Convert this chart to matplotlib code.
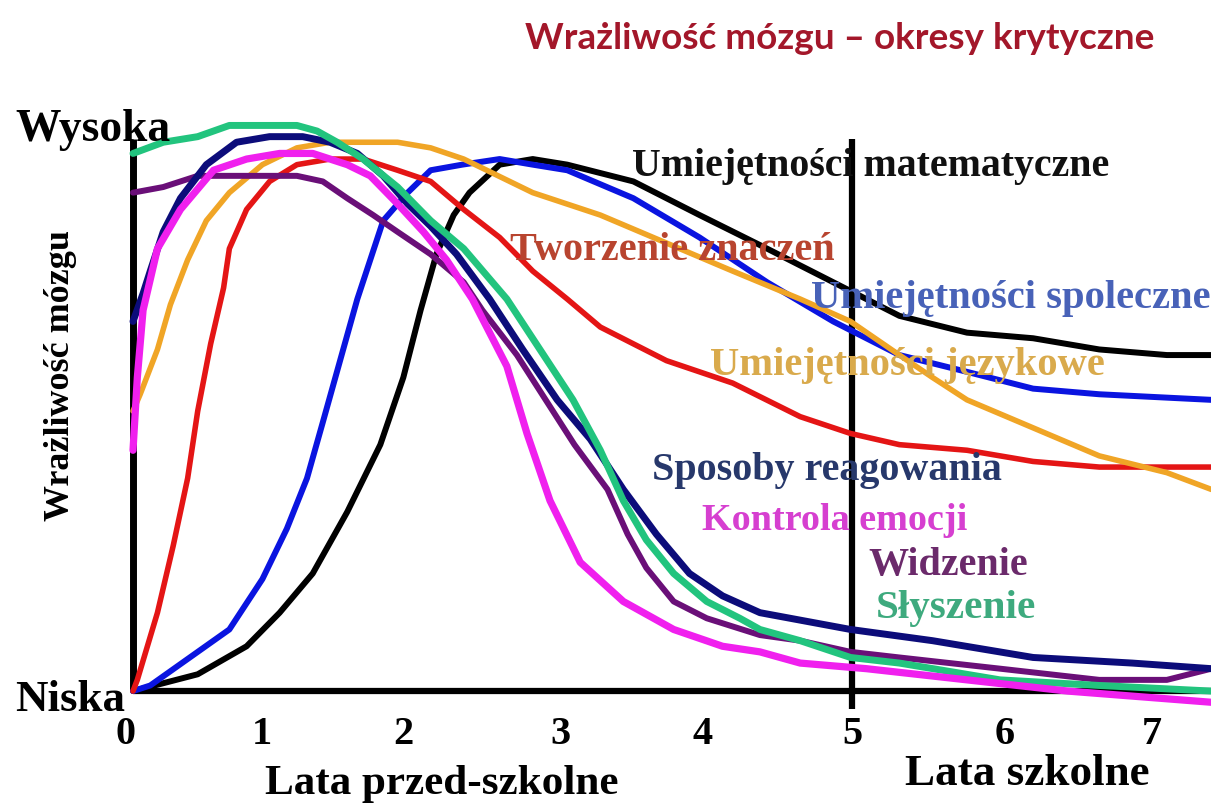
import matplotlib
matplotlib.use("Agg")
import matplotlib.pyplot as plt

# ---------------- data ----------------
title = "Wrażliwość mózgu – okresy krytyczne"
y_label = "Wrażliwość mózgu"
y_high = "Wysoka"
y_low = "Niska"
tick_values = [0, 1, 2, 3, 4, 5, 6, 7]
tick_labels = ["0", "1", "2", "3", "4", "5", "6", "7"]
x_label_pre = "Lata przed-szkolne"
x_label_school = "Lata szkolne"
school_start = 5

math_x = [0, 0.45, 0.79, 1.02, 1.25, 1.49, 1.72, 1.88, 2.00, 2.11, 2.23, 2.34, 2.55, 2.78, 3.02, 3.48, 3.94, 4.41, 4.87, 5.33, 5.80, 6.26, 6.72, 7.19, 7.50]
math_y = [0, 0.03, 0.08, 0.14, 0.21, 0.32, 0.44, 0.56, 0.68, 0.78, 0.85, 0.89, 0.94, 0.95, 0.94, 0.91, 0.85, 0.79, 0.73, 0.67, 0.64, 0.63, 0.61, 0.60, 0.60]

social_x = [0, 0.12, 0.45, 0.67, 0.90, 1.07, 1.21, 1.32, 1.44, 1.56, 1.74, 1.91, 2.07, 2.29, 2.55, 2.78, 3.02, 3.48, 3.94, 4.41, 4.87, 5.33, 5.80, 6.26, 6.72, 7.50]
social_y = [0, 0.01, 0.07, 0.11, 0.20, 0.29, 0.38, 0.48, 0.59, 0.70, 0.84, 0.89, 0.93, 0.94, 0.95, 0.94, 0.93, 0.88, 0.81, 0.73, 0.66, 0.60, 0.57, 0.54, 0.53, 0.52]

meaning_x = [0, 0.03, 0.17, 0.28, 0.38, 0.45, 0.54, 0.63, 0.67, 0.79, 0.95, 1.14, 1.37, 1.60, 1.84, 2.07, 2.30, 2.55, 2.78, 3.02, 3.25, 3.48, 3.71, 4.17, 4.64, 4.99, 5.33, 5.80, 6.26, 6.72, 7.50]
meaning_y = [0, 0.02, 0.14, 0.26, 0.38, 0.50, 0.62, 0.72, 0.79, 0.86, 0.91, 0.94, 0.95, 0.95, 0.93, 0.91, 0.86, 0.81, 0.75, 0.70, 0.65, 0.62, 0.59, 0.55, 0.49, 0.46, 0.44, 0.43, 0.41, 0.40, 0.40]

language_x = [0, 0.05, 0.17, 0.26, 0.38, 0.51, 0.67, 0.90, 1.14, 1.37, 1.60, 1.84, 2.07, 2.30, 2.78, 3.25, 3.71, 4.17, 4.64, 4.99, 5.33, 5.56, 5.80, 6.26, 6.72, 7.19, 7.50]
language_y = [0.50, 0.53, 0.61, 0.69, 0.77, 0.84, 0.89, 0.94, 0.97, 0.98, 0.98, 0.98, 0.97, 0.95, 0.89, 0.85, 0.80, 0.75, 0.70, 0.66, 0.60, 0.56, 0.52, 0.47, 0.42, 0.39, 0.36]

hearing_x = [0, 0.21, 0.45, 0.67, 0.90, 1.14, 1.28, 1.42, 1.60, 1.84, 2.07, 2.30, 2.60, 2.83, 3.06, 3.25, 3.41, 3.57, 3.76, 3.99, 4.22, 4.36, 4.64, 4.99, 5.33, 6.03, 6.72, 7.50]
hearing_y = [0.96, 0.98, 0.99, 1.01, 1.01, 1.01, 1.00, 0.98, 0.95, 0.90, 0.84, 0.79, 0.70, 0.61, 0.52, 0.43, 0.34, 0.27, 0.21, 0.16, 0.13, 0.11, 0.09, 0.06, 0.05, 0.02, 0.01, 0.00]

reaction_x = [0, 0.07, 0.12, 0.21, 0.33, 0.51, 0.72, 0.95, 1.18, 1.37, 1.56, 1.74, 1.91, 2.07, 2.25, 2.48, 2.71, 2.95, 3.18, 3.41, 3.64, 3.87, 4.10, 4.36, 4.99, 5.56, 6.26, 6.95, 7.50]
reaction_y = [0.66, 0.71, 0.75, 0.82, 0.88, 0.94, 0.98, 0.99, 0.99, 0.98, 0.96, 0.92, 0.87, 0.83, 0.78, 0.70, 0.61, 0.52, 0.45, 0.36, 0.28, 0.21, 0.17, 0.14, 0.11, 0.09, 0.06, 0.05, 0.04]

emotion_x = [0, 0.03, 0.07, 0.17, 0.33, 0.56, 0.79, 1.02, 1.25, 1.49, 1.65, 1.84, 2.02, 2.18, 2.36, 2.60, 2.74, 2.90, 3.11, 3.41, 3.76, 4.10, 4.36, 4.64, 5.10, 5.80, 6.50, 7.50]
emotion_y = [0.43, 0.56, 0.68, 0.79, 0.86, 0.93, 0.95, 0.96, 0.96, 0.94, 0.92, 0.87, 0.82, 0.77, 0.70, 0.58, 0.46, 0.34, 0.23, 0.16, 0.11, 0.08, 0.07, 0.05, 0.04, 0.02, 0.00, -0.02]

vision_x = [0, 0.21, 0.45, 0.67, 0.90, 1.14, 1.32, 1.49, 1.67, 1.84, 2.07, 2.30, 2.43, 2.67, 2.87, 3.07, 3.30, 3.44, 3.57, 3.76, 3.99, 4.36, 4.64, 4.99, 5.33, 6.03, 6.72, 7.19, 7.50]
vision_y = [0.89, 0.90, 0.92, 0.92, 0.92, 0.92, 0.91, 0.88, 0.85, 0.82, 0.78, 0.73, 0.68, 0.60, 0.52, 0.44, 0.36, 0.28, 0.22, 0.16, 0.13, 0.10, 0.09, 0.07, 0.06, 0.04, 0.02, 0.02, 0.04]

series_names = ["Umiejętności matematyczne", "Tworzenie znaczeń", "Umiejętności spoleczne",
                "Umiejętności językowe", "Sposoby reagowania", "Kontrola emocji",
                "Widzenie", "Słyszenie"]

# ---------------- layout / style ----------------
W, H = 1211, 807
fig = plt.figure(figsize=(W / 100, H / 100), dpi=100)
ax = fig.add_axes([0, 0, 1, 1])
ax.set_xlim(-0.925, 7.497)
ax.set_ylim(-0.207, 1.234)
ax.axis("off")
fig.patch.set_facecolor("white")

# axes lines
ax.plot([0, 0], [0, 0.985], color="black", lw=5, solid_capstyle="butt", zorder=1)
ax.plot([0, 7.6], [0, 0], color="black", lw=4.5, solid_capstyle="butt", zorder=1)
ax.plot([school_start, school_start], [-0.032, 0.985], color="black", lw=4.5,
        solid_capstyle="butt", zorder=1)

curves = [
    (math_x, math_y, "#000000", 4.3),
    (social_x, social_y, "#0a14e0", 4.3),
    (meaning_x, meaning_y, "#e41515", 4.0),
    (language_x, language_y, "#f0a526", 4.0),
    (vision_x, vision_y, "#6a0f78", 4.3),
    (reaction_x, reaction_y, "#0c0c7a", 5.0),
    (hearing_x, hearing_y, "#22c47e", 5.0),
    (emotion_x, emotion_y, "#f020ee", 5.2),
]
for i, (xs, ys, c, lw) in enumerate(curves):
    ax.plot(xs, ys, color=c, lw=lw, solid_joinstyle="round", solid_capstyle="round",
            zorder=2 + i * 0.1, clip_on=False)

renderer = fig.canvas.get_renderer()


def fit(t, target_px):
    bb = t.get_window_extent(renderer=renderer)
    t.set_fontsize(t.get_fontsize() * target_px / bb.width)


def px(xp, yp):
    return ((xp - 133) / 143.8, (691 - yp) / 560)


serif = ["Liberation Serif", "DejaVu Serif"]

# title
t = ax.text(*px(840, 38), title, ha="center", va="center", color="#a3172a",
            family=["Lato", "DejaVu Sans"], fontweight="bold", fontsize=24, zorder=5)
fit(t, 630)

# y-level labels
t = ax.text(*px(15, 130), y_high, ha="left", va="center", family=serif,
            fontweight="bold", fontsize=22, zorder=5)
fit(t, 155)
t = ax.text(*px(15, 700), y_low, ha="left", va="center", family=serif,
            fontweight="bold", fontsize=22, zorder=5)
fit(t, 110)

# y label
t = ax.text(*px(60, 375), y_label, ha="center", va="center", rotation=90,
            family=serif, fontweight="bold", fontsize=28, zorder=5)
bb = t.get_window_extent(renderer=renderer)
t.set_fontsize(t.get_fontsize() * 290 / bb.height)

# tick labels
tick_px = [125, 262, 403, 560, 703, 852, 1005, 1152]
for lab, xp in zip(tick_labels, tick_px):
    ax.text(*px(xp, 734), lab, ha="center", va="center", family=serif,
            fontweight="bold", fontsize=29, zorder=5)

t = ax.text(*px(442, 784), x_label_pre, ha="center", va="center", family=serif,
            fontweight="bold", fontsize=24, zorder=5)
fit(t, 355)
t = ax.text(*px(1027, 774), x_label_school, ha="center", va="center", family=serif,
            fontweight="bold", fontsize=24, zorder=5)
fit(t, 245)

# series labels
label_specs = [
    (871, 166, 478, "#111111"),
    (672, 250, 325, "#b8442f"),
    (1011, 298, 400, "#4862b8"),
    (907, 365, 395, "#d9aa4c"),
    (827, 470, 350, "#27386b"),
    (835, 520, 265, "#d63fd0"),
    (948, 565, 160, "#6b2a6b"),
    (956, 608, 160, "#3eaa7e"),
]
for name, (xp, yp, wpx, col) in zip(series_names, label_specs):
    t = ax.text(*px(xp, yp), name, ha="center", va="center", family=serif,
                fontweight="bold", color=col, fontsize=22, zorder=6)
    fit(t, wpx)

fig.savefig("out.png", dpi=100, facecolor="white")
